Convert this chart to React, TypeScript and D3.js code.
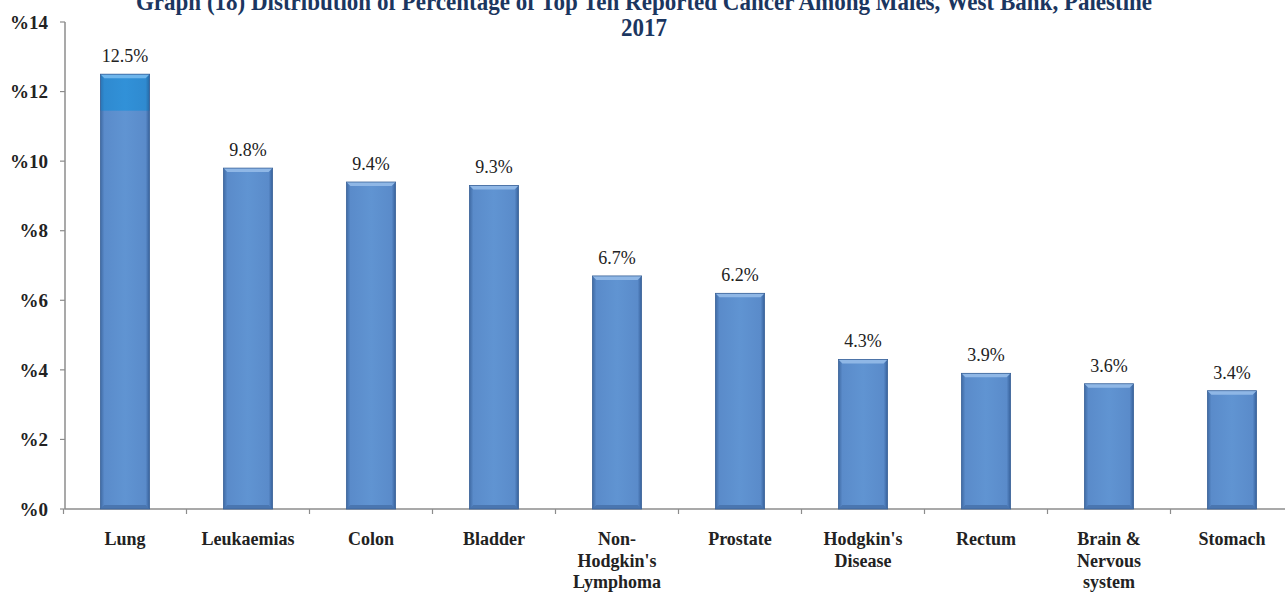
import React from "react";
import * as d3 from "d3";

const categories = [
  ["Lung"],
  ["Leukaemias"],
  ["Colon"],
  ["Bladder"],
  ["Non-", "Hodgkin's", "Lymphoma"],
  ["Prostate"],
  ["Hodgkin's", "Disease"],
  ["Rectum"],
  ["Brain &", "Nervous", "system"],
  ["Stomach"],
];
const values = [12.5, 9.8, 9.4, 9.3, 6.7, 6.2, 4.3, 3.9, 3.6, 3.4];
const valueLabels = ["12.5%", "9.8%", "9.4%", "9.3%", "6.7%", "6.2%", "4.3%", "3.9%", "3.6%", "3.4%"];
const yTicks = [0, 2, 4, 6, 8, 10, 12, 14];
const lungHighlightFrom = 11.45;
const titleLines = [
  "Graph (18) Distribution of Percentage of Top Ten Reported Cancer Among Males, West Bank, Palestine",
  "2017",
];

const W = 1285;
const H = 593;

export default function App() {
  const x = d3
    .scaleBand<number>()
    .domain(d3.range(values.length))
    .range([63.5, 1293.5])
    .paddingInner(0.6)
    .paddingOuter(0.3);
  const y = d3.scaleLinear().domain([0, 14]).range([509, 22]);
  const bw = x.bandwidth();
  const step = x.step();
  const font = "'Liberation Serif', 'Times New Roman', serif";
  const axisColor = "#8c8c8c";
  const titleX = 644;
  const sx = 0.885;

  return (
    <svg width={W} height={H} style={{ position: "absolute", left: 0, top: 0, background: "#fff" }}>
      <defs>
        <linearGradient id="barGrad" x1="0" x2="1" y1="0" y2="0">
          <stop offset="0" stopColor="#3f6aa3" />
          <stop offset="0.08" stopColor="#5a8bca" />
          <stop offset="0.5" stopColor="#6094d2" />
          <stop offset="0.92" stopColor="#5a8bca" />
          <stop offset="1" stopColor="#36609a" />
        </linearGradient>
        <linearGradient id="hiGrad" x1="0" x2="1" y1="0" y2="0">
          <stop offset="0" stopColor="#2a74b4" />
          <stop offset="0.08" stopColor="#2f8ad0" />
          <stop offset="0.5" stopColor="#3191d8" />
          <stop offset="0.92" stopColor="#2f8ad0" />
          <stop offset="1" stopColor="#2569a6" />
        </linearGradient>
      </defs>

      {/* Title */}
      <g transform={`translate(${titleX},0) scale(${sx},1)`}>
        {titleLines.map((t, i) => (
          <text
            key={i}
            x={0}
            y={10 + i * 26}
            textAnchor="middle"
            fontFamily={font}
            fontWeight="bold"
            fontSize={26}
            fill="#1b3660"
          >
            {t}
          </text>
        ))}
      </g>

      {/* Y axis */}
      <line x1={65} x2={65} y1={y(14)} y2={y(0)} stroke={axisColor} strokeWidth={1.5} />
      {yTicks.map((t) => (
        <g key={t}>
          <line x1={60} x2={65} y1={y(t)} y2={y(t)} stroke={axisColor} strokeWidth={1.2} />
          <text
            x={48}
            y={y(t)}
            dy="0.35em"
            textAnchor="end"
            fontFamily={font}
            fontWeight="bold"
            fontSize={19}
            fill="#222"
          >
            {"%" + t}
          </text>
        </g>
      ))}

      {/* X axis */}
      <line x1={65} x2={W} y1={y(0)} y2={y(0)} stroke={axisColor} strokeWidth={1.5} />
      {d3.range(values.length + 1).map((i) => {
        const xx = 63.5 + i * step;
        return <line key={i} x1={xx} x2={xx} y1={y(0)} y2={y(0) + 5} stroke={axisColor} strokeWidth={1.2} />;
      })}

      {/* Bars */}
      {values.map((v, i) => {
        const x0 = x(i)!;
        const top = y(v);
        const bottom = y(0);
        const b = 4;
        return (
          <g key={i}>
            <rect x={x0} y={top} width={bw} height={bottom - top} fill="url(#barGrad)" />
            {i === 0 && (
              <rect x={x0} y={top} width={bw} height={y(lungHighlightFrom) - top} fill="url(#hiGrad)" />
            )}
            <path
              d={`M${x0},${top} L${x0 + bw},${top} L${x0 + bw - b},${top + b} L${x0 + b},${top + b} Z`}
              fill={i === 0 ? "#6fb6ec" : "#8fb7e6"}
            />
            <path
              d={`M${x0},${bottom} L${x0 + bw},${bottom} L${x0 + bw - b},${bottom - b} L${x0 + b},${bottom - b} Z`}
              fill="#4a76b0"
            />
            <rect x={x0} y={top} width={bw} height={bottom - top} fill="none" stroke="#3b6399" strokeWidth={0.8} />
            <text
              x={x0 + bw / 2}
              y={top - 12}
              textAnchor="middle"
              fontFamily={font}
              fontSize={18}
              fill="#222"
            >
              {valueLabels[i]}
            </text>
            {categories[i].map((line, j) => (
              <text
                key={j}
                x={x0 + bw / 2}
                y={545 + j * 21.5}
                textAnchor="middle"
                fontFamily={font}
                fontWeight="bold"
                fontSize={18}
                fill="#222"
              >
                {line}
              </text>
            ))}
          </g>
        );
      })}
    </svg>
  );
}
